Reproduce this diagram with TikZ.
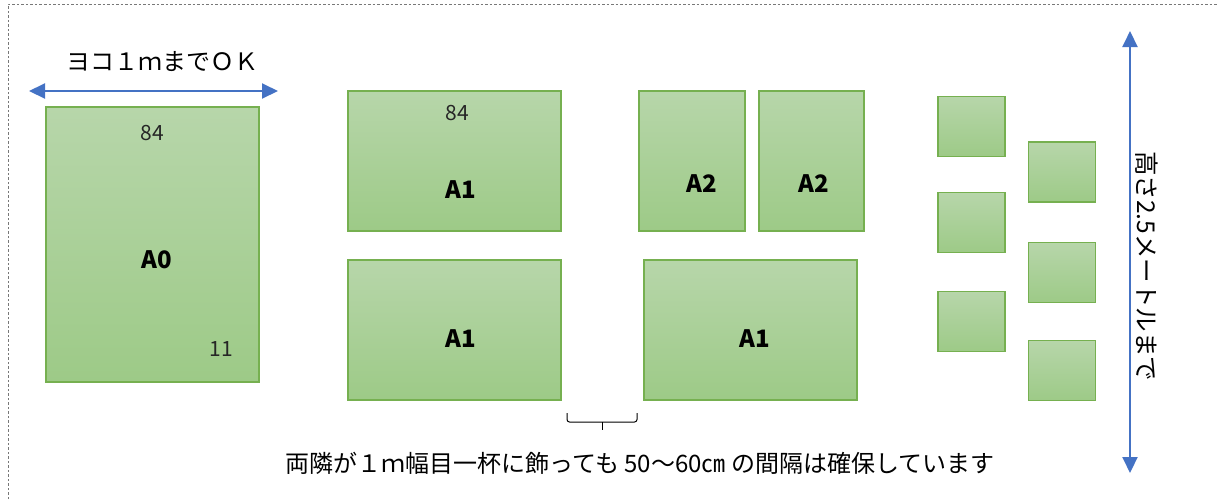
\documentclass[tikz,border=0pt]{standalone}
\usepackage{fontspec}
\setmainfont{Noto Sans CJK JP}
\usetikzlibrary{arrows.meta}
\definecolor{boxtop}{RGB}{183,214,170}
\definecolor{boxbot}{RGB}{157,202,135}
\definecolor{boxedge}{RGB}{118,176,80}
\definecolor{arrowblue}{RGB}{68,114,196}
\definecolor{framegray}{RGB}{120,120,120}
\tikzset{
  panel/.style={draw=boxedge, line width=1.5pt, top color=boxtop, bottom color=boxbot, inner sep=0pt, outer sep=0pt},
  sizelabel/.style={font=\fontsize{21}{25}\selectfont, text=black!85, inner sep=0pt},
  paperlabel/.style={font=\fontsize{24}{28}\selectfont\bfseries, text=black, inner sep=0pt},
  caption/.style={font=\fontsize{24}{28}\selectfont, text=black, inner sep=0pt},
  dimarrow/.style={draw=arrowblue, line width=2pt, {Triangle[length=16pt,width=15pt]}-{Triangle[length=16pt,width=15pt]}},
  framed/.style={draw=framegray, line width=0.8pt, dash pattern=on 2.5pt off 2pt},
}
\begin{document}
\begin{tikzpicture}[x=1pt,y=-1pt]
\useasboundingbox (0,0) rectangle (1217,499);
% dotted frame
\draw[framed] (8,499) -- (8,4) -- (1217,4);

% horizontal dimension
\coordinate (hl) at (29,91);
\coordinate (hr) at (278,91);
\draw[dimarrow] (hl) -- (hr);
\node[caption] (htext) at (162,62) {ヨコ１ｍまでＯＫ};

% A0
\node[panel, minimum width=213pt, minimum height=275pt] (a0) at (152.5,244.5) {};
\node[sizelabel] (a0w) at (152,133) {84};
\node[paperlabel] (a0l) at (157,260) {A0};
\node[sizelabel] (a0h) at (221,349) {11};

% A1 top
\node[panel, minimum width=213pt, minimum height=140pt] (a1a) at (454.5,161) {};
\node[sizelabel] (a1aw) at (457,113) {84};
\node[paperlabel] (a1al) at (461,190) {A1};

% A2s
\node[panel, minimum width=106pt, minimum height=140pt] (a2a) at (692,161) {};
\node[paperlabel] (a2al) at (702,184) {A2};
\node[panel, minimum width=105pt, minimum height=140pt] (a2b) at (811.5,161) {};
\node[paperlabel] (a2bl) at (814,184) {A2};

% A1 bottom
\node[panel, minimum width=213pt, minimum height=140pt] (a1b) at (454.5,330) {};
\node[paperlabel] (a1bl) at (461,339) {A1};
\node[panel, minimum width=213pt, minimum height=140pt] (a1c) at (750.5,330) {};
\node[paperlabel] (a1cl) at (755,339) {A1};

% small squares
\node[panel, minimum width=67pt, minimum height=60pt] (s1) at (971.5,126.5) {};
\node[panel, minimum width=67pt, minimum height=60pt] (s2) at (971.5,222.5) {};
\node[panel, minimum width=67pt, minimum height=60pt] (s3) at (971.5,321.5) {};
\node[panel, minimum width=67pt, minimum height=60pt] (s4) at (1062,172) {};
\node[panel, minimum width=67pt, minimum height=60pt] (s5) at (1062,272.5) {};
\node[panel, minimum width=67pt, minimum height=60pt] (s6) at (1062,370.5) {};

% gap bracket
\coordinate (bl) at (567,413);
\coordinate (br) at (637,413);
\coordinate (bm) at (602,422);
\coordinate (bt) at (602,430);
\draw[black, line width=1pt, rounded corners=2.5pt] (bl) -- (567,422) -- (637,422) -- (br);
\draw[black, line width=1pt] (bm) -- (bt);
\node[caption] (gaptext) at (640,463) {両隣が１ｍ幅目一杯に飾っても 50～60㎝ の間隔は確保しています};

% vertical dimension
\coordinate (vt) at (1130,31);
\coordinate (vb) at (1130,473);
\draw[dimarrow] (vt) -- (vb);
\node[caption, font=\fontsize{24.5}{28}\selectfont, rotate=-90] (vtext) at (1147,266) {高さ2.5メートルまで};
\end{tikzpicture}
\end{document}
